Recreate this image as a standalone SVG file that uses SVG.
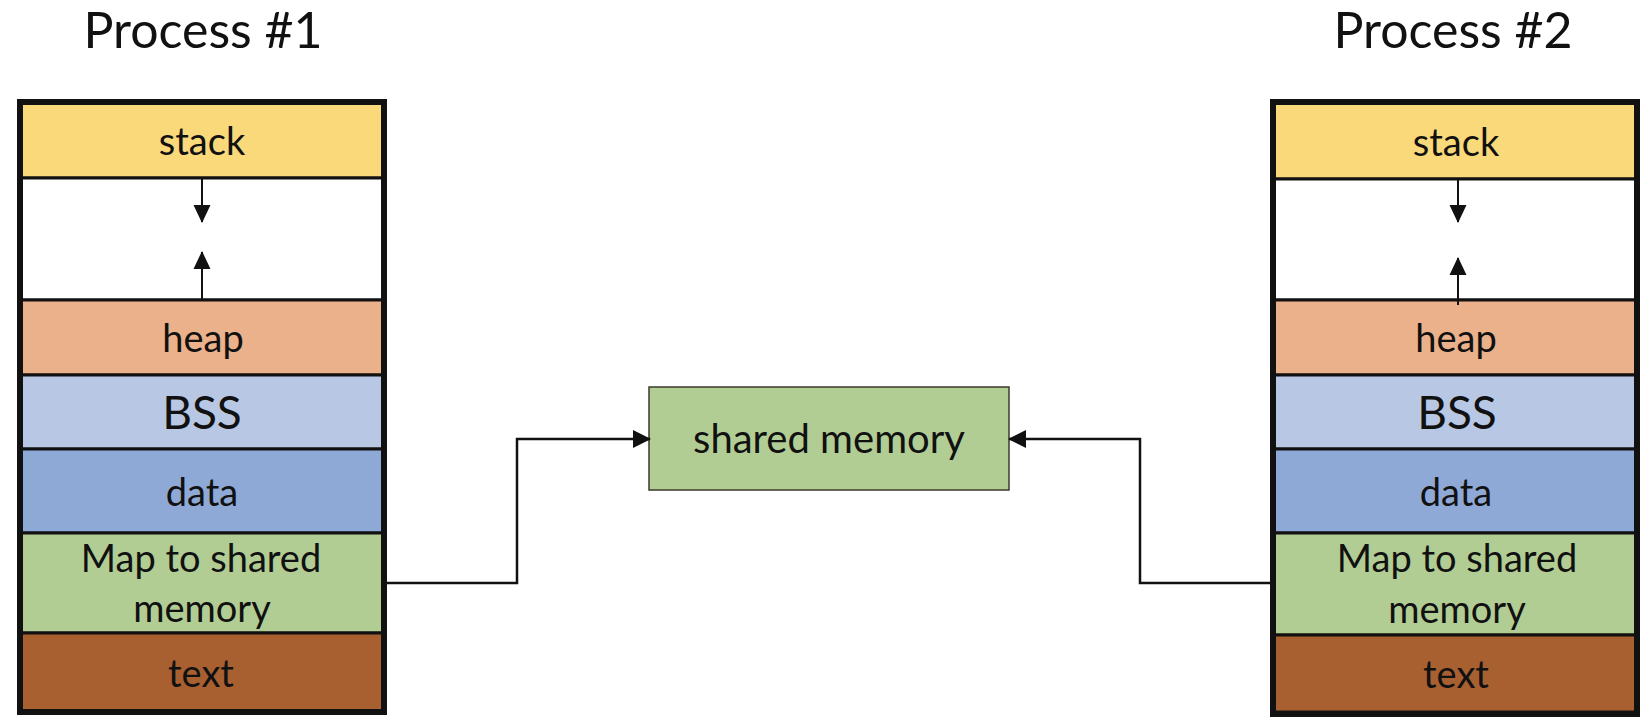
<svg xmlns="http://www.w3.org/2000/svg" width="1650" height="723" viewBox="0 0 1650 723">
<style>
text{font-family:Lato,"Open Sans","Liberation Sans",sans-serif;fill:#111;text-anchor:middle}
.t{font-size:50px}
.s{font-size:38px}
.b{font-size:46px}
.seg{stroke:#111;stroke-width:3}
.outer{fill:none;stroke:#111;stroke-width:6}
.stk{fill:#F9D97A}.gap{fill:#FFFFFF}.hp{fill:#EBB18A}.bss{fill:#B8C8E4}.dat{fill:#8FA9D6}.map{fill:#B2CD94}.txt{fill:#A86031}
.conn{fill:none;stroke:#111;stroke-width:2.5}
.ga{fill:none;stroke:#111;stroke-width:2}
</style>
<defs>
<marker id="ah" markerUnits="userSpaceOnUse" markerWidth="18" markerHeight="18" viewBox="0 0 18 18" refX="17" refY="9" orient="auto">
<path d="M0,0 L18,9 L0,18 Z" fill="#111"/>
</marker>
<marker id="sh" markerUnits="userSpaceOnUse" markerWidth="18" markerHeight="18" viewBox="0 0 18 18" refX="17" refY="9" orient="auto">
<path d="M0,0.5 L18,9 L0,17.5 Z" fill="#111"/>
</marker>
</defs>

<g id="process1">
<text class="t" x="203" y="48">Process #1</text>
<g id="p1-stack"><rect class="seg stk" x="20" y="102" width="364" height="76"/><text class="s" x="202" y="155">stack</text></g>
<g id="p1-free"><rect class="seg gap" x="20" y="178" width="364" height="122"/></g>
<g id="p1-heap"><rect class="seg hp" x="20" y="300" width="364" height="75"/><text class="s" x="203" y="352">heap</text></g>
<g id="p1-bss"><rect class="seg bss" x="20" y="375" width="364" height="74"/><text class="b" x="202" y="429">BSS</text></g>
<g id="p1-data"><rect class="seg dat" x="20" y="449" width="364" height="84"/><text class="s" x="202" y="506">data</text></g>
<g id="p1-map"><rect class="seg map" x="20" y="533" width="364" height="100"/><text class="s" x="201" y="572">Map to shared</text><text class="s" x="202" y="622">memory</text></g>
<g id="p1-text"><rect class="seg txt" x="20" y="633" width="364" height="79"/><text class="s" x="201" y="687">text</text></g>
<rect class="outer" x="20" y="102" width="364" height="610"/>
</g>

<g id="process2">
<text class="t" x="1453" y="48">Process #2</text>
<g id="p2-stack"><rect class="seg stk" x="1273" y="102" width="364" height="77"/><text class="s" x="1456" y="156">stack</text></g>
<g id="p2-free"><rect class="seg gap" x="1273" y="179" width="364" height="121"/></g>
<g id="p2-heap"><rect class="seg hp" x="1273" y="300" width="364" height="75"/><text class="s" x="1456" y="352">heap</text></g>
<g id="p2-bss"><rect class="seg bss" x="1273" y="375" width="364" height="74"/><text class="b" x="1457" y="429">BSS</text></g>
<g id="p2-data"><rect class="seg dat" x="1273" y="449" width="364" height="84"/><text class="s" x="1456" y="506">data</text></g>
<g id="p2-map"><rect class="seg map" x="1273" y="533" width="364" height="102"/><text class="s" x="1457" y="572">Map to shared</text><text class="s" x="1457" y="623">memory</text></g>
<g id="p2-text"><rect class="seg txt" x="1273" y="635" width="364" height="77"/><text class="s" x="1456" y="688">text</text></g>
<rect class="outer" x="1273" y="102" width="364" height="612"/>
</g>

<g id="shared">
<rect x="649" y="387" width="360" height="103" fill="#B2CD94" stroke="#3a3a2a" stroke-width="1.5"/>
<text x="829" y="453" style="font-size:40px">shared memory</text>
</g>

<g id="connectors">
<line class="ga" x1="202" y1="179" x2="202" y2="222" marker-end="url(#sh)"/>
<line class="ga" x1="202" y1="300" x2="202" y2="252" marker-end="url(#sh)"/>
<line class="ga" x1="1458" y1="180" x2="1458" y2="222" marker-end="url(#sh)"/>
<line class="ga" x1="1458" y1="305" x2="1458" y2="258" marker-end="url(#sh)"/>
<path class="conn" d="M387,583 H517 V439 H650" marker-end="url(#ah)"/>
<path class="conn" d="M1270,583 H1140 V439 H1009" marker-end="url(#ah)"/>
</g>
</svg>
